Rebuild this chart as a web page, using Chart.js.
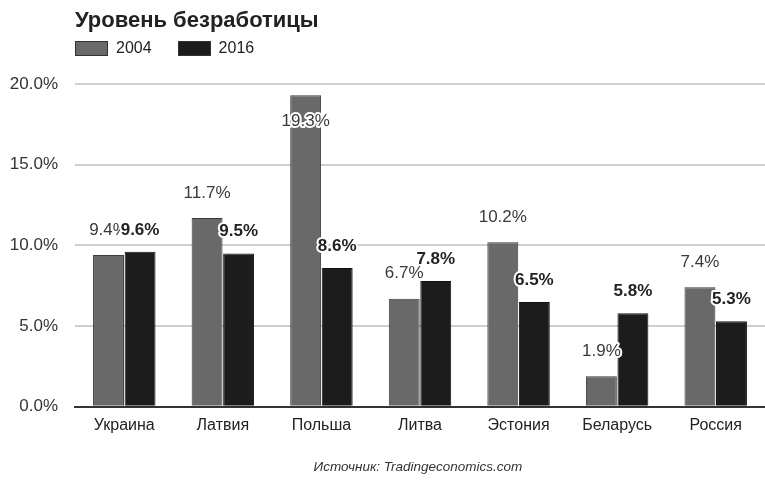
<!DOCTYPE html>
<html>
<head>
<meta charset="utf-8">
<script src="https://cdn.jsdelivr.net/npm/chart.js@4"></script>
<style>
  body { margin: 0; background: #fff; font-family: "Liberation Sans", Arial, sans-serif; }
  #wrap { position: relative; width: 765px; height: 480px; }
  #title { position: absolute; left: 75px; top: 7px; font-size: 22px; font-weight: bold; color: #222; }
  #legend { position: absolute; left: 75px; top: 39px; font-size: 16px; color: #222; display: flex; }
  .item { display: flex; align-items: center; margin-right: 26px; }
  .box { width: 31px; height: 13px; margin-right: 8px; border: 1px solid #333; }
  #source { position: absolute; left: 0; width: 836px; top: 459px; text-align: center; font-size: 13.5px; font-style: italic; color: #333; }
</style>
</head>
<body>
<div id="wrap">
  <canvas id="chart" width="765" height="480"></canvas>
  <div id="title">Уровень безработицы</div>
  <div id="legend"></div>
  <div id="source">Источник: Tradingeconomics.com</div>
</div>
<script>
const countries = ['Украина', 'Латвия', 'Польша', 'Литва', 'Эстония', 'Беларусь', 'Россия'];
const years = ['2004', '2016'];
const values2004 = [9.4, 11.7, 19.3, 6.7, 10.2, 1.9, 7.4];
const values2016 = [9.6, 9.5, 8.6, 7.8, 6.5, 5.8, 5.3];
const yTicks = [0, 5, 10, 15, 20];
const colors = ['#696969', '#1c1c1c'];

// Легенда в HTML
const legend = document.getElementById('legend');
years.forEach((y, i) => {
    const d = document.createElement('div');
    d.className = 'item';
    d.innerHTML = `<span class="box" style="background:${colors[i]}"></span>${y}`;
    legend.appendChild(d);
});

// Подписи значений над столбцами
const valueLabels = {
    id: 'valueLabels',
    afterDatasetsDraw(chart) {
        const ctx = chart.ctx;
        const top = chart.chartArea.top;
        ctx.save();
        ctx.textAlign = 'center';
        ctx.textBaseline = 'middle';
        chart.data.datasets.forEach((ds, di) => {
            const meta = chart.getDatasetMeta(di);
            meta.data.forEach((bar, i) => {
                const txt = ds.data[i].toFixed(1) + '%';
                let y;
                if (di === 0) {
                    y = bar.y - 25;
                    if (y < top + 10) y = bar.y + 26;
                    ctx.font = '17px "Liberation Sans", Arial, sans-serif';
                    ctx.fillStyle = '#3a3a3a';
                } else {
                    y = bar.y - 22;
                    ctx.font = 'bold 17px "Liberation Sans", Arial, sans-serif';
                    ctx.fillStyle = '#222';
                }
                ctx.lineWidth = 4;
                ctx.lineJoin = 'round';
                ctx.strokeStyle = '#fff';
                ctx.strokeText(txt, bar.x, y);
                ctx.fillText(txt, bar.x, y);
            });
        });
        ctx.restore();
    }
};

new Chart(document.getElementById('chart'), {
    type: 'bar',
    data: {
        labels: countries,
        datasets: [
            { label: years[0], data: values2004, backgroundColor: colors[0], borderColor: '#3a3a3a', borderWidth: 1 },
            { label: years[1], data: values2016, backgroundColor: colors[1], borderColor: '#111', borderWidth: 1 }
        ]
    },
    options: {
        responsive: false,
        animation: false,
        layout: { padding: { top: 84, right: 0, bottom: 44, left: 0 } },
        categoryPercentage: 0.64,
        barPercentage: 0.98,
        plugins: { legend: { display: false }, tooltip: { enabled: false } },
        scales: {
            x: {
                grid: { display: false },
                border: { display: true, color: '#333', width: 2 },
                ticks: { color: '#222', font: { size: 16, family: '"Liberation Sans", Arial' }, padding: 1 }
            },
            y: {
                min: 0,
                max: 20,
                afterBuildTicks: s => { s.ticks = yTicks.map(v => ({ value: v })); },
                afterFit: s => { s.width = 75; },
                border: { display: false },
                grid: { color: c => c.tick.value === 0 ? '#333' : '#cfcfcf', lineWidth: 2, drawTicks: false },
                ticks: {
                    color: '#333',
                    padding: 17,
                    font: { size: 17, family: '"Liberation Sans", Arial' },
                    callback: v => v.toFixed(1) + '%'
                }
            }
        }
    },
    plugins: [valueLabels]
});
</script>
</body>
</html>
